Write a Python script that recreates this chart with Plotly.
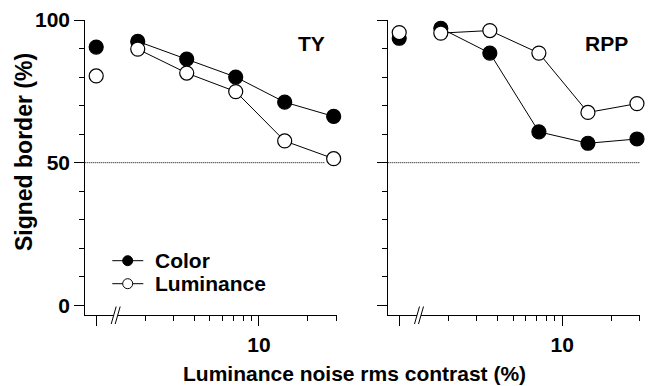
import plotly.graph_objects as go

# ---- data ----
zero_x = [1]                      # zero-noise condition, drawn left of the axis break
noise_x = [1.8, 3.6, 7.2, 14.4, 28.8]

ty_color_zero = [90.5]
ty_lum_zero = [80.4]
ty_color = [92.5, 86.3, 80.0, 71.2, 66.2]
ty_lum = [89.8, 81.4, 74.9, 57.6, 51.4]

rpp_color_zero = [93.6]
rpp_lum_zero = [95.6]
rpp_color = [97.1, 88.4, 60.8, 56.8, 58.3]
rpp_lum = [95.4, 96.3, 88.4, 67.6, 70.7]

panel_names = ["TY", "RPP"]
legend_names = ["Color", "Luminance"]

W, H = 648, 386
FONT = "Liberation Sans, Arial, Helvetica, sans-serif"


def px(x):
    return x / W


def py(y):
    return 1 - y / H


fig = go.Figure()

MS = 14
LW = 1.2


def add_series(xa, ya, zx, zy, xs, ys, filled):
    fill = "black" if filled else "white"
    mk = dict(size=MS, color=fill, line=dict(color="black", width=LW))
    fig.add_trace(go.Scatter(x=zx, y=zy, mode="markers", marker=mk, xaxis=xa, yaxis=ya,
                             showlegend=False, cliponaxis=False))
    fig.add_trace(go.Scatter(x=xs, y=ys, mode="lines+markers", marker=mk,
                             line=dict(color="black", width=1), xaxis=xa, yaxis=ya,
                             showlegend=False, cliponaxis=False))


# dotted 50% reference lines
fig.add_shape(type="line", xref="x domain", yref="y", x0=0, x1=0.953, y0=50, y1=50,
              line=dict(color="black", width=1, dash="1px,1px"), layer="below")
fig.add_shape(type="line", xref="x2 domain", yref="y2", x0=0, x1=1.0, y0=50, y1=50,
              line=dict(color="black", width=1, dash="1px,1px"), layer="below")

add_series("x", "y", zero_x, ty_color_zero, noise_x, ty_color, True)
add_series("x", "y", zero_x, ty_lum_zero, noise_x, ty_lum, False)
add_series("x2", "y2", zero_x, rpp_color_zero, noise_x, rpp_color, True)
add_series("x2", "y2", zero_x, rpp_lum_zero, noise_x, rpp_lum, False)

tickfont = dict(family=FONT, size=21, color="black", weight="bold")
xr = [-0.067, 1.478]
yr = [-3.5, 100]
ydom = [py(315.3), py(20)]

xcommon = dict(type="log", range=xr, showline=True, linecolor="black", linewidth=LW,
               ticks="outside", ticklen=10, tickwidth=LW, tickcolor="black",
               tickvals=[1, 10], ticktext=["", "10"], tickfont=tickfont,
               showgrid=False, zeroline=False, automargin=False,
               minor=dict(tickmode="array", tickvals=[2, 3, 4, 5, 6, 7, 8, 9, 20, 30],
                          ticks="outside", ticklen=5, tickwidth=LW, tickcolor="black",
                          showgrid=False))
ycommon = dict(range=yr, domain=ydom, showline=True, linecolor="black", linewidth=LW,
               ticks="outside", ticklen=10, tickwidth=LW, tickcolor="black",
               tickvals=[0, 50, 100], ticktext=["0", "50", "100"], tickfont=tickfont,
               showgrid=False, zeroline=False, automargin=False,
               minor=dict(tickmode="array", tickvals=[10, 20, 30, 40, 60, 70, 80, 90],
                          ticks="outside", ticklen=5, tickwidth=LW, tickcolor="black",
                          showgrid=False))

fig.update_layout(
    template="none",
    xaxis=dict(domain=[px(85.3), px(336.7)], anchor="y", **xcommon),
    xaxis2=dict(domain=[px(388.3), px(640)], anchor="y2", **xcommon),
    yaxis=dict(anchor="x", **ycommon),
    yaxis2=dict(anchor="x2", **ycommon),
)
fig.layout.yaxis2.showticklabels = False

# axis breaks "//"
for x0 in (116.7, 420.0):
    yb, yt = 324.0, 306.5
    fig.add_shape(type="path", xref="paper", yref="paper",
                  path=f"M {px(x0-5.5)} {py(yb)} L {px(x0-0.5)} {py(yt)} L {px(x0+3.5)} {py(yt)} L {px(x0-1.5)} {py(yb)} Z",
                  fillcolor="white", line=dict(width=0), layer="above")
    for dx in (-5.5, -1.5):
        fig.add_shape(type="line", xref="paper", yref="paper",
                      x0=px(x0+dx), y0=py(yb), x1=px(x0+dx+5), y1=py(yt),
                      line=dict(color="black", width=1), layer="above")

textfont = dict(family=FONT, size=21, color="black", weight="bold")

# panel labels
for name, cx in zip(panel_names, (311.3, 606.0)):
    fig.add_annotation(x=px(cx), y=py(44), xref="paper", yref="paper", text=name,
                       showarrow=False, font=textfont, xanchor="center", yanchor="middle")

# axis titles
fig.add_annotation(x=px(354), y=py(373), xref="paper", yref="paper",
                   text="Luminance noise rms contrast (%)", showarrow=False,
                   font=textfont, xanchor="center", yanchor="middle")
fig.add_annotation(x=px(24), y=py(152), xref="paper", yref="paper",
                   text="Signed border (%)", showarrow=False, textangle=-90,
                   font=dict(family=FONT, size=23, color="black", weight="bold"),
                   xanchor="center", yanchor="middle")

# legend (drawn manually)
for name, ly, filled in zip(legend_names, (260.7, 283.7), (True, False)):
    fig.add_shape(type="line", xref="paper", yref="paper", x0=px(112.3), x1=px(143.3),
                  y0=py(ly), y1=py(ly), line=dict(color="black", width=1))
    fig.add_shape(type="circle", xref="paper", yref="paper", xsizemode="pixel",
                  ysizemode="pixel", xanchor=px(127.7), yanchor=py(ly),
                  x0=-5, x1=5, y0=-5, y1=5,
                  fillcolor="black" if filled else "white",
                  line=dict(color="black", width=1))
    fig.add_annotation(x=px(152.7), y=py(ly), xref="paper", yref="paper", text=name,
                       showarrow=False, font=textfont, xanchor="left", yanchor="middle")

fig.update_layout(width=W, height=H, margin=dict(l=0, r=0, t=0, b=0, pad=0),
                  paper_bgcolor="white", plot_bgcolor="white", showlegend=False)

fig.write_html("out.html")
